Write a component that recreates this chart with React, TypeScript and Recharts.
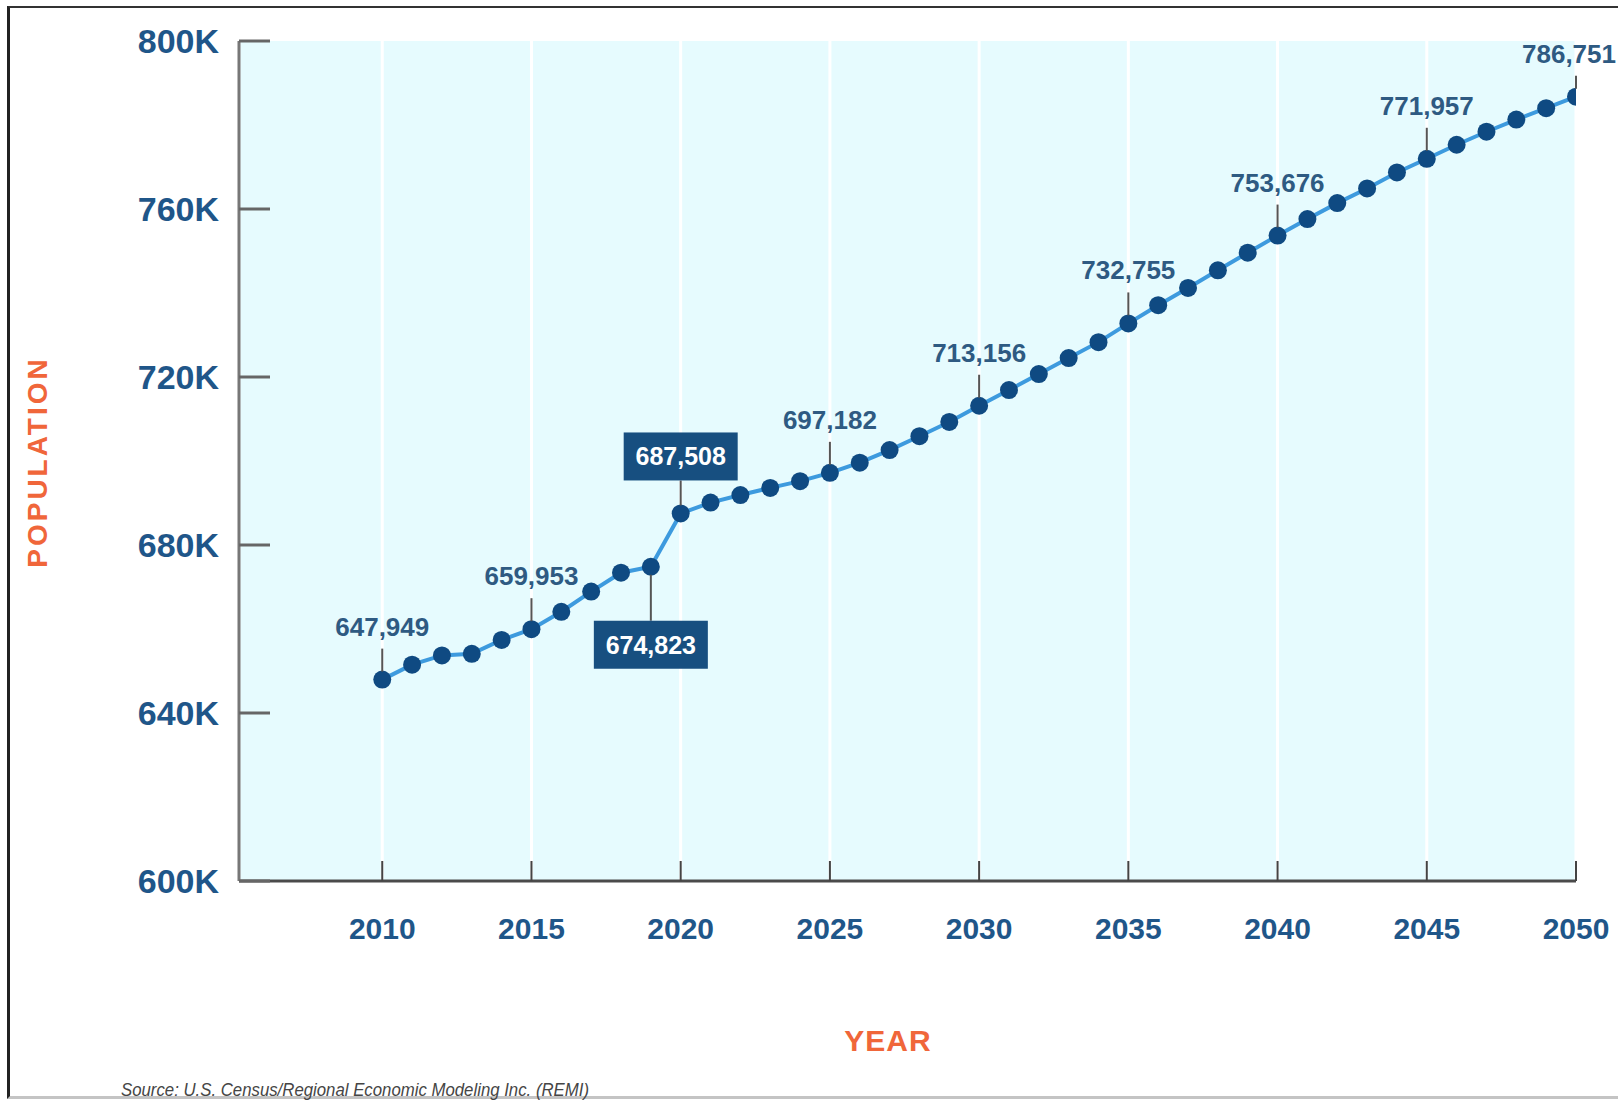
import { LineChart, Line, XAxis, YAxis, CartesianGrid, LabelList } from 'recharts';

const years = [
  2010, 2011, 2012, 2013, 2014, 2015, 2016, 2017, 2018, 2019,
  2020, 2021, 2022, 2023, 2024, 2025, 2026, 2027, 2028, 2029,
  2030, 2031, 2032, 2033, 2034, 2035, 2036, 2037, 2038, 2039,
  2040, 2041, 2042, 2043, 2044, 2045, 2046, 2047, 2048, 2049,
  2050,
];

const population = [
  647949, 651500, 653700, 654100, 657400, 659953, 664100, 668900, 673400, 674823,
  687508, 690100, 691900, 693600, 695200, 697182, 699600, 702600, 705900, 709300,
  713156, 716900, 720700, 724500, 728300, 732755, 737100, 741200, 745400, 749600,
  753676, 757600, 761400, 764900, 768700, 771957, 775300, 778400, 781300, 784000,
  786751,
];

const xTicks = [2010, 2015, 2020, 2025, 2030, 2035, 2040, 2045, 2050];
const yTicks = [600000, 640000, 680000, 720000, 760000, 800000];

// years with a plain label above, and the two boxed ones
const labelYears = [2010, 2015, 2025, 2030, 2035, 2040, 2045, 2050];
const boxAboveYears = [2020];
const boxBelowYears = [2019];

const data = years.map((year, i) => ({ year, population: population[i] }));

const FONT = '"Liberation Sans", Arial, Helvetica, sans-serif';
const BLUE_TEXT = '#1f5689';
const LABEL_TEXT = '#2e5a82';
const ORANGE = '#f0663a';
const NAVY = '#0f4a82';
const BOX = '#174f80';

const fmt = (v: number) => v.toLocaleString('en-US');

const XTick = (props: any) => {
  const { x, y, payload } = props;
  return (
    <g>
      <line x1={x} y1={y} x2={x} y2={y - 20} stroke="#444" strokeWidth={2} />
      <text
        x={x}
        y={y + 58}
        textAnchor="middle"
        fontFamily={FONT}
        fontWeight="bold"
        fontSize={30}
        fill={BLUE_TEXT}
      >
        {payload.value}
      </text>
    </g>
  );
};

const YTick = (props: any) => {
  const { x, y, payload } = props;
  return (
    <g>
      <line x1={x} y1={y} x2={x + 31} y2={y} stroke="#666" strokeWidth={3} />
      <text
        x={x - 20}
        y={y + 12}
        textAnchor="end"
        fontFamily={FONT}
        fontWeight="bold"
        fontSize={34}
        fill={BLUE_TEXT}
      >
        {`${payload.value / 1000}K`}
      </text>
    </g>
  );
};

const renderAnnotation = (props: any) => {
  const { x, y, value, index } = props;
  const year = years[index];
  if (labelYears.includes(year)) {
    const last = index === years.length - 1;
    const top = last ? 21 : 31;
    const base = last ? 34 : 44;
    return (
      <g>
        <line x1={x} y1={y - top} x2={x} y2={y - 8} stroke="#555" strokeWidth={2} />
        <text
          x={last ? x + 40 : x}
          y={y - base}
          textAnchor={last ? 'end' : 'middle'}
          fontFamily={FONT}
          fontWeight="bold"
          fontSize={26}
          fill={LABEL_TEXT}
        >
          {fmt(value)}
        </text>
      </g>
    );
  }
  if (boxAboveYears.includes(year)) {
    return (
      <g>
        <line x1={x} y1={y - 33} x2={x} y2={y - 8} stroke="#555" strokeWidth={2} />
        <rect x={x - 57} y={y - 81} width={114} height={48} fill={BOX} />
        <text
          x={x}
          y={y - 48}
          textAnchor="middle"
          fontFamily={FONT}
          fontWeight="bold"
          fontSize={25}
          fill="#ffffff"
        >
          {fmt(value)}
        </text>
      </g>
    );
  }
  if (boxBelowYears.includes(year)) {
    return (
      <g>
        <line x1={x} y1={y + 8} x2={x} y2={y + 54} stroke="#555" strokeWidth={2} />
        <rect x={x - 57} y={y + 54} width={114} height={48} fill={BOX} />
        <text
          x={x}
          y={y + 87}
          textAnchor="middle"
          fontFamily={FONT}
          fontWeight="bold"
          fontSize={25}
          fill="#ffffff"
        >
          {fmt(value)}
        </text>
      </g>
    );
  }
  return null;
};

export default function App() {
  return (
    <div style={{ position: 'absolute', left: 0, top: 0, width: 1618, height: 1104, background: '#fff' }}>
      <div
        style={{
          position: 'absolute',
          left: 7,
          top: 6,
          width: 1611,
          height: 1093,
          borderLeft: '3px solid #222',
          borderTop: '2px solid #333',
          borderBottom: '3px solid #c4c4c4',
          boxSizing: 'border-box',
        }}
      />
      <div style={{ position: 'absolute', left: 0, top: 0 }}>
        <LineChart width={1618} height={1104} data={data} margin={{ top: 41, right: 42, left: 0, bottom: 163 }}>
          <CartesianGrid
            horizontal={false}
            vertical={true}
            fill="#e6fbfe"
            stroke="#ffffff"
            strokeWidth={3}
          />
          <XAxis
            dataKey="year"
            type="number"
            domain={[2005.2, 2050]}
            allowDataOverflow
            ticks={xTicks}
            interval={0}
            height={60}
            tickSize={0}
            tickMargin={0}
            tickLine={false}
            axisLine={{ stroke: '#4a4a4a', strokeWidth: 3 }}
            tick={<XTick />}
          />
          <YAxis
            type="number"
            domain={[600000, 800000]}
            allowDataOverflow
            ticks={yTicks}
            interval={0}
            width={239}
            tickSize={0}
            tickMargin={0}
            tickLine={false}
            axisLine={{ stroke: '#777', strokeWidth: 3 }}
            tick={<YTick />}
          />
          <Line
            type="linear"
            dataKey="population"
            stroke="#3d9ade"
            strokeWidth={4}
            dot={{ r: 9, fill: NAVY, stroke: 'none', strokeWidth: 0 }}
            activeDot={false}
            isAnimationActive={false}
          >
            <LabelList dataKey="population" content={renderAnnotation} />
          </Line>
        </LineChart>
      </div>
      <svg
        width={1618}
        height={1104}
        style={{ position: 'absolute', left: 0, top: 0, pointerEvents: 'none' }}
      >
        <text
          x={37}
          y={462}
          transform="rotate(-90 37 462)"
          textAnchor="middle"
          dominantBaseline="central"
          fontFamily={FONT}
          fontWeight="bold"
          fontSize={28}
          letterSpacing={3}
          fill={ORANGE}
        >
          POPULATION
        </text>
        <text
          x={888}
          y={1051}
          textAnchor="middle"
          fontFamily={FONT}
          fontWeight="bold"
          fontSize={30}
          letterSpacing={1}
          fill={ORANGE}
        >
          YEAR
        </text>
        <text
          x={121}
          y={1096}
          fontFamily={FONT}
          fontStyle="italic"
          fontSize={19}
          textLength={468}
          lengthAdjust="spacingAndGlyphs"
          fill="#454545"
        >
          Source: U.S. Census/Regional Economic Modeling Inc. (REMI)
        </text>
      </svg>
    </div>
  );
}
